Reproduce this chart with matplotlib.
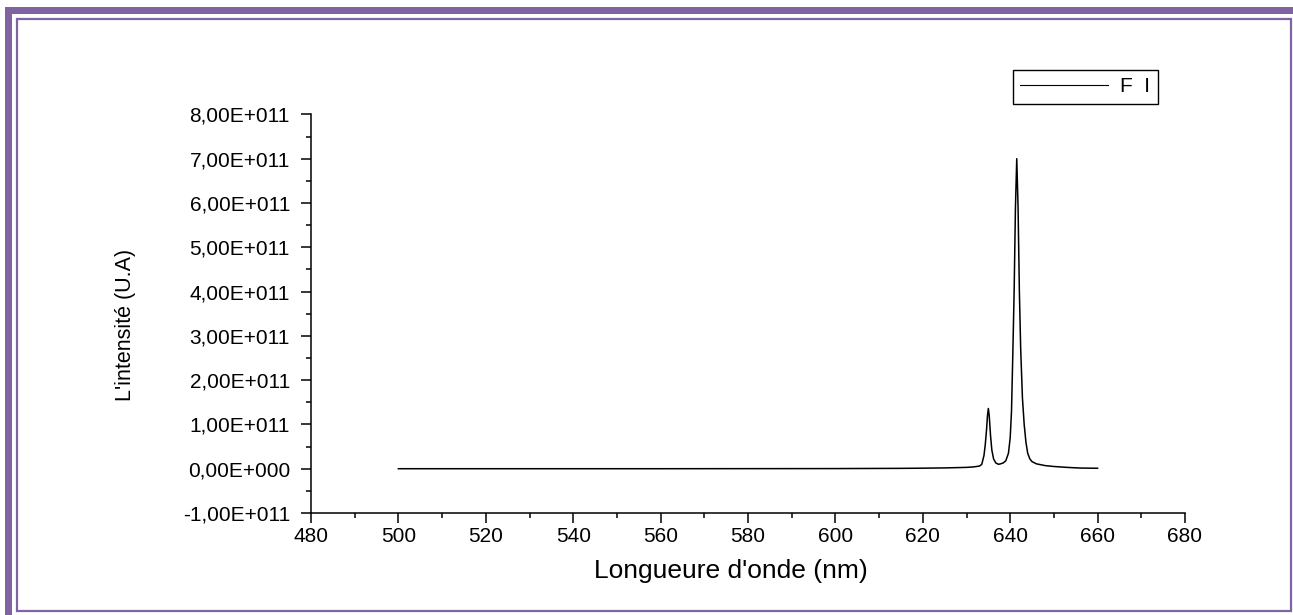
import matplotlib

matplotlib.use("Agg")
import matplotlib.pyplot as plt  # noqa: E402
from matplotlib.patches import Rectangle  # noqa: E402
from matplotlib.ticker import FuncFormatter, MultipleLocator  # noqa: E402

# emission spectrum, intensity in units of 1e11 (U.A)
wavelength = [
    500, 560, 600, 615, 620, 625, 628, 630, 631.5, 632.3, 633.0, 633.5,
    634.0, 634.3, 634.6, 634.8, 635.0, 635.2, 635.5, 635.8, 636.2, 636.7,
    637.3, 637.8, 638.4, 639.0, 639.6, 640.0, 640.3, 640.6, 640.9, 641.2,
    641.5, 641.8, 642.1, 642.4, 642.8, 643.2, 643.6, 644.0, 644.5, 645,
    646, 648, 650, 653, 656, 660,
]
intensity = [
    0.0, 0.0, 0.003, 0.008, 0.012, 0.018, 0.025, 0.03, 0.04, 0.05, 0.06, 0.1,
    0.3, 0.55, 0.9, 1.2, 1.36, 1.2, 0.75, 0.42, 0.22, 0.13,
    0.1, 0.11, 0.13, 0.18, 0.35, 0.7, 1.3, 2.6, 4.0, 5.9,
    7.0, 5.9, 4.0, 2.7, 1.6, 1.0, 0.6, 0.35, 0.22, 0.16,
    0.11, 0.07, 0.05, 0.03, 0.015, 0.01,
]
series_label = "F  I"
x_label = "Longueure d'onde (nm)"
y_label = "L'intensité (U.A)"
SCALE = 1e11

W, H = 1293, 615
FRAME = "#8064a2"

plt.rcParams["font.family"] = ["Liberation Sans", "DejaVu Sans"]


def sci_comma(v, _pos=None):
    # Origin-style labels: 8,00E+011 / 0,00E+000
    if v == 0:
        return "0,00E+000"
    exp = 11
    m = v / 10**exp
    return f"{m:.2f}".replace(".", ",") + f"E+{exp:03d}"


def px(x0, y0, x1, y1):
    # pixel box (top-left origin) -> figure fraction rectangle
    return (x0 / W, 1 - y1 / H), (x1 - x0) / W, (y1 - y0) / H


fig = plt.figure(figsize=(W / 100, H / 100), dpi=100)

# page border: thick band top/left, thin inner rule
for xy, w, h in [px(5, 7, W, 14), px(5, 7, 12, H)]:
    fig.add_artist(Rectangle(xy, w, h, transform=fig.transFigure,
                             facecolor=FRAME, edgecolor="none"))
xy, w, h = px(16.5, 18.5, 1291, 610.5)
fig.add_artist(Rectangle(xy, w, h, transform=fig.transFigure, fill=False,
                         edgecolor=FRAME, linewidth=1.6))

ax = fig.add_axes([311 / W, 1 - 513 / H, 874 / W, 398.6 / H])
ax.plot(wavelength, [v * SCALE for v in intensity], color="black",
        linewidth=1.1, label=series_label)

ax.set_xlim(480, 680)
ax.set_ylim(-1e11, 8e11)
ax.xaxis.set_major_locator(MultipleLocator(20))
ax.xaxis.set_minor_locator(MultipleLocator(10))
ax.yaxis.set_major_locator(MultipleLocator(1e11))
ax.yaxis.set_minor_locator(MultipleLocator(0.5e11))
ax.yaxis.set_major_formatter(FuncFormatter(sci_comma))

ax.spines[["top", "right"]].set_visible(False)
for s in ("left", "bottom"):
    ax.spines[s].set_linewidth(1.1)
ax.tick_params(which="major", length=7.2, width=1.1, labelsize=15)
ax.tick_params(which="minor", length=3.6, width=1.1)
ax.tick_params(axis="y", which="major", pad=8)
ax.tick_params(axis="x", which="major", pad=3)

ax.set_xlabel(x_label, fontsize=19)
ax.set_ylabel(y_label, fontsize=15.5)
ax.xaxis.set_label_coords(0.4805, -0.115)
ax.yaxis.set_label_coords(-0.20, 0.472)

leg = ax.legend(loc="upper left", bbox_to_anchor=(1013 / W, 1 - 70 / H),
                bbox_transform=fig.transFigure, fontsize=15, fancybox=False,
                framealpha=1, edgecolor="black", handlelength=4.2,
                handletextpad=0.6, borderpad=0.35, borderaxespad=0)
leg.get_frame().set_linewidth(1.0)
for line in leg.get_lines():
    line.set_linewidth(0.8)

fig.savefig("out.png", dpi=100)
